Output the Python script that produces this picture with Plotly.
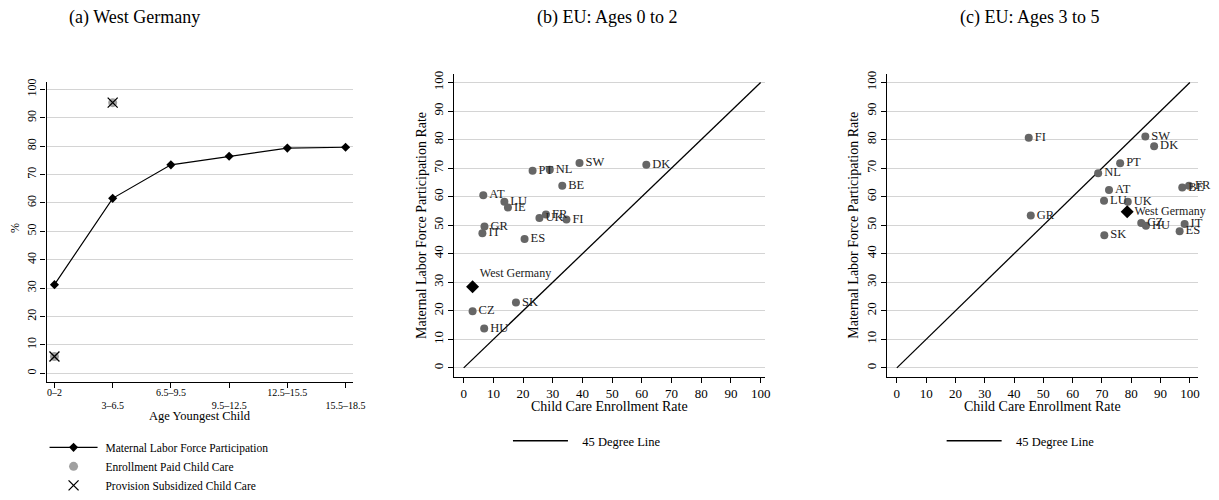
import plotly.graph_objects as go

# ---------------- data ----------------
age_groups = ["0–2", "3–6.5", "6.5–9.5", "9.5–12.5", "12.5–15.5", "15.5–18.5"]
lfp_wg = [31.2, 61.6, 73.4, 76.4, 79.3, 79.6]
enroll_paid_pos = [0, 1]
enroll_paid = [5.9, 95.3]
provision_sub_pos = [0, 1]
provision_sub = [5.9, 95.3]

b_countries = ["SW", "DK", "PT", "NL", "BE", "AT", "LU", "IE", "FR", "UK", "FI", "GR", "IT", "ES", "SK", "CZ", "HU"]
b_enroll = [39.0, 61.5, 23.2, 29.0, 33.2, 6.6, 13.7, 14.9, 27.7, 25.5, 34.6, 7.0, 6.3, 20.5, 17.6, 3.0, 6.9]
b_lfp = [71.8, 71.2, 69.1, 69.4, 63.8, 60.5, 58.2, 56.2, 53.7, 52.5, 52.0, 49.5, 47.2, 45.2, 22.9, 19.8, 13.8]
b_wg_enroll = [3.0]
b_wg_lfp = [28.4]

c_countries = ["FI", "SW", "DK", "PT", "NL", "AT", "LU", "UK", "GR", "CZ", "HU", "IT", "ES", "SK", "BE", "FR"]
c_enroll = [45.0, 84.8, 87.8, 76.2, 68.7, 72.4, 70.7, 78.8, 45.7, 83.4, 85.0, 98.2, 96.5, 70.8, 97.4, 99.7]
c_lfp = [80.6, 81.1, 77.7, 71.7, 68.2, 62.3, 58.6, 58.2, 53.4, 50.8, 49.8, 50.4, 47.9, 46.5, 63.2, 63.8]
c_wg_enroll = [78.6]
c_wg_lfp = [54.7]

line45_x = [0, 100]
line45_y = [0, 100]

# ---------------- styling ----------------
FONT = "Liberation Serif"
W, H = 1219, 500
DARK_GREY = "#666666"
LIGHT_GREY = "#a0a0a0"
GRID = "#d4d4d4"
NB = "\u00a0"

def px_x(p):
    return p / W

def px_y(p):
    return 1 - p / H

fig = go.Figure()

# ---- panel (a) ----
fig.add_trace(go.Scatter(
    x=list(range(len(age_groups))), y=lfp_wg, mode="lines+markers",
    line=dict(color="black", width=1.2),
    marker=dict(symbol="diamond", size=7, color="black"),
    name=NB + "Maternal Labor Force Participation", xaxis="x", yaxis="y", legend="legend"))
fig.add_trace(go.Scatter(
    x=enroll_paid_pos, y=enroll_paid, mode="markers",
    marker=dict(symbol="circle", size=9, color=LIGHT_GREY),
    name=NB + "Enrollment Paid Child Care", xaxis="x", yaxis="y", legend="legend"))
fig.add_trace(go.Scatter(
    x=provision_sub_pos, y=provision_sub, mode="markers",
    marker=dict(symbol="x-thin-open", size=10, color="black", line=dict(width=1.3, color="black")),
    name=NB + "Provision Subsidized Child Care", xaxis="x", yaxis="y", legend="legend"))

# ---- panel (b) ----
fig.add_trace(go.Scatter(
    x=line45_x, y=line45_y, mode="lines", line=dict(color="black", width=1.3),
    name=NB * 3 + "45 Degree Line", xaxis="x2", yaxis="y2", legend="legend2"))
fig.add_trace(go.Scatter(
    x=b_enroll, y=b_lfp, mode="markers+text", text=b_countries,
    textposition="middle right", cliponaxis=False,
    textfont=dict(family=FONT, size=12.5, color="#222"),
    marker=dict(symbol="circle", size=8, color=DARK_GREY),
    showlegend=False, xaxis="x2", yaxis="y2"))
fig.add_trace(go.Scatter(
    x=b_wg_enroll, y=b_wg_lfp, mode="markers+text", text=["West Germany"],
    textposition="top right", cliponaxis=False,
    textfont=dict(family=FONT, size=12, color="#222"),
    marker=dict(symbol="diamond", size=10, color="black"),
    showlegend=False, xaxis="x2", yaxis="y2"))

# ---- panel (c) ----
fig.add_trace(go.Scatter(
    x=line45_x, y=line45_y, mode="lines", line=dict(color="black", width=1.3),
    name=NB * 3 + "45 Degree Line", xaxis="x3", yaxis="y3", legend="legend3"))
fig.add_trace(go.Scatter(
    x=c_enroll, y=c_lfp, mode="markers+text", text=c_countries,
    textposition="middle right", cliponaxis=False,
    textfont=dict(family=FONT, size=12.5, color="#222"),
    marker=dict(symbol="circle", size=8, color=DARK_GREY),
    showlegend=False, xaxis="x3", yaxis="y3"))
fig.add_trace(go.Scatter(
    x=c_wg_enroll, y=c_wg_lfp, mode="markers+text", text=["West Germany"],
    textposition="middle right", cliponaxis=False,
    textfont=dict(family=FONT, size=12, color="#222"),
    marker=dict(symbol="diamond", size=10, color="black"),
    showlegend=False, xaxis="x3", yaxis="y3"))

# ---------------- axes ----------------
common_y = dict(
    dtick=10, tick0=0, tickangle=-90, showgrid=True, gridcolor=GRID, gridwidth=1.3,
    zeroline=False, showline=True, linecolor="black", linewidth=1.2,
    ticks="outside", ticklen=5, tickcolor="black", tickwidth=1,
)
common_x = dict(
    showgrid=False, zeroline=False, showline=True, linecolor="black", linewidth=1.2,
    ticks="outside", ticklen=5, tickcolor="black", tickwidth=1,
)

tick_a = [t if i % 2 == 0 else "<br>" + t for i, t in enumerate(age_groups)]

fig.update_layout(
    width=W, height=H,
    margin=dict(l=0, r=0, t=0, b=0),
    paper_bgcolor="white", plot_bgcolor="white",
    font=dict(family=FONT, color="black", size=12),
    xaxis=dict(domain=[px_x(47), px_x(357)], range=[-0.136, 5.136],
               tickvals=list(range(len(age_groups))), ticktext=tick_a,
               tickfont=dict(size=10), ticklabelstandoff=-4, anchor="y", **common_x),
    yaxis=dict(domain=[px_y(392), px_y(81.7)], range=[-2.96, 102.6],
               tickfont=dict(size=12), anchor="x", **common_y),
    xaxis2=dict(domain=[px_x(459), px_x(773)], range=[-3.1, 101.6],
                dtick=10, tick0=0, tickfont=dict(size=13), anchor="y2", **common_x),
    yaxis2=dict(domain=[px_y(386.7), px_y(73.3)], range=[-3.05, 103.05],
                tickfont=dict(size=13), anchor="x2", **common_y),
    xaxis3=dict(domain=[px_x(896), px_x(1210)], range=[-3.3, 102.8],
                dtick=10, tick0=0, tickfont=dict(size=13), anchor="y3", **common_x),
    yaxis3=dict(domain=[px_y(386.7), px_y(73.3)], range=[-3.05, 103.05],
                tickfont=dict(size=13), anchor="x3", **common_y),
    legend=dict(x=px_x(45), y=px_y(445), xanchor="left", yanchor="top",
                font=dict(family=FONT, size=11.5), bgcolor="rgba(0,0,0,0)",
                itemwidth=48, tracegroupgap=0),
    legend2=dict(x=px_x(513), y=px_y(438), xanchor="left", yanchor="top",
                 font=dict(family=FONT, size=12.5), bgcolor="rgba(0,0,0,0)", itemwidth=55),
    legend3=dict(x=px_x(951), y=px_y(438), xanchor="left", yanchor="top",
                 font=dict(family=FONT, size=12.5), bgcolor="rgba(0,0,0,0)", itemwidth=55),
    showlegend=True,
)

# ---------------- titles & axis titles (annotations) ----------------
ann = []
ann.append(dict(text="(a) West Germany", x=px_x(136), y=px_y(15), font=dict(size=18)))
ann.append(dict(text="(b) EU: Ages 0 to 2", x=px_x(613), y=px_y(15), font=dict(size=18)))
ann.append(dict(text="(c) EU: Ages 3 to 5", x=px_x(1040), y=px_y(15), font=dict(size=18)))
ann.append(dict(text="Age Youngest Child", x=px_x(202), y=px_y(428), font=dict(size=12.5)))
ann.append(dict(text="%", x=px_x(15), y=px_y(233), textangle=-90, font=dict(size=12)))
ann.append(dict(text="Child Care Enrollment Rate", x=px_x(616), y=px_y(418), font=dict(size=14)))
ann.append(dict(text="Child Care Enrollment Rate", x=px_x(1053), y=px_y(418), font=dict(size=14)))
ann.append(dict(text="Maternal Labor Force Participation Rate", x=px_x(425), y=px_y(230),
                textangle=-90, font=dict(size=14)))
ann.append(dict(text="Maternal Labor Force Participation Rate", x=px_x(862), y=px_y(230),
                textangle=-90, font=dict(size=14)))
for a in ann:
    a.update(xref="paper", yref="paper", showarrow=False, xanchor="center", yanchor="middle")
    a["font"] = dict(family=FONT, color="black", **a["font"])
fig.update_layout(annotations=ann)

fig.write_html("out.html")
